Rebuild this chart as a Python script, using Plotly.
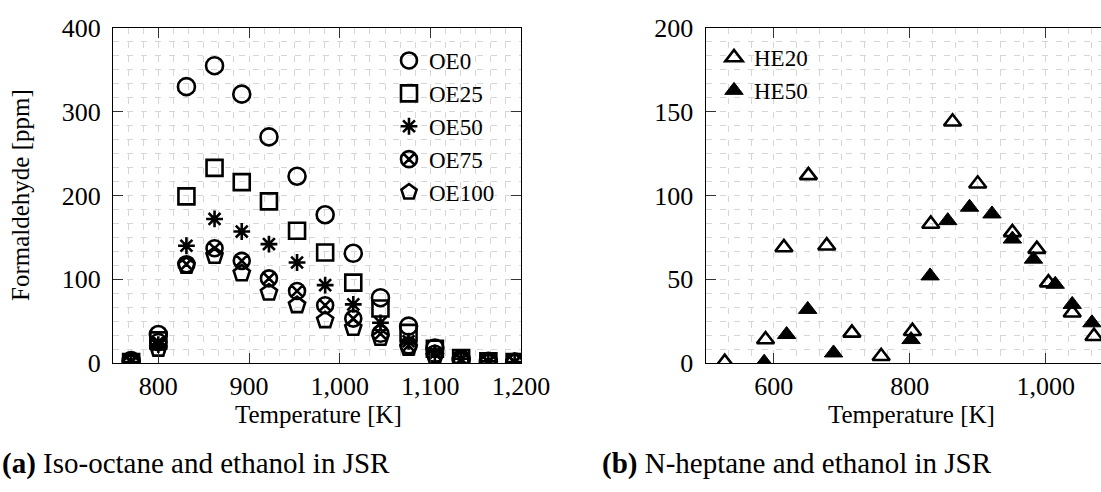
import plotly.graph_objects as go

# ---------------- data ----------------
T_OE = [770, 800, 831, 862, 892, 922, 953, 984, 1015, 1045, 1076, 1105, 1134, 1164, 1193]
OE0 = [3, 34, 330, 355, 321, 270, 223, 177, 131, 78, 44, 18, 5, 2, 1]
OE25 = [1, 27, 199, 233, 216, 193, 158, 132, 96, 65, 36, 17, 6, 2, 1]
OE50 = [1, 22, 140, 172, 157, 142, 120, 93, 70, 48, 26, 12, 5, 2, 1]
OE75 = [2, 25, 118, 137, 122, 101, 86, 69, 53, 35, 21, 11, 4, 1, 1]
OE100 = [0, 17, 116, 128, 107, 84, 69, 51, 42, 30, 18, 8, 3, 1, 1]

T_HE20 = [528, 588, 615, 651, 678, 715, 758, 804, 831, 863, 900, 951, 987, 1004, 1039, 1071]
HE20 = [0.5, 14, 69, 112, 70, 18, 4, 19, 83, 144, 107, 78, 68, 48, 30, 16]
T_HE50 = [586, 619, 650, 688, 802, 830, 856, 888, 921, 951, 982, 1014, 1039, 1068]
HE50 = [0.5, 17, 32, 6, 14, 52, 85, 93, 89, 74, 62, 47, 35, 24]

X_TITLE = "Temperature [K]"
Y_TITLE = "Formaldehyde [ppm]"
CAPTION_A = "<b>(a)</b> Iso-octane and ethanol in JSR"
CAPTION_B = "<b>(b)</b> N-heptane and ethanol in JSR"

# ---------------- layout geometry ----------------
W, H = 1101, 492
FONT = "'Liberation Serif', 'Times New Roman', Times, serif"
GRID = "#d6d6d6"
DASH = "6px,8px"


def px_x(p):
    return p / W


def px_y(p):
    return (H - p) / H


fig = go.Figure()

lw = 2.6
series_a = [
    ("OE0", OE0, "circle-open", 17),
    ("OE25", OE25, "square-open", 16),
    ("OE50", OE50, "asterisk-open", 14),
    ("OE75", OE75, "circle-x-open", 16),
    ("OE100", OE100, "pentagon-open", 17),
]
for name, vals, sym, sz in series_a:
    fig.add_trace(go.Scatter(
        x=T_OE, y=vals, mode="markers", name=name,
        marker=dict(symbol=sym, size=sz, color="black", line=dict(width=lw, color="black")),
        xaxis="x", yaxis="y", legend="legend",
    ))

fig.add_trace(go.Scatter(
    x=T_HE20, y=HE20, mode="markers", name="HE20",
    marker=dict(symbol="triangle-up-open", size=15, color="black", line=dict(width=lw, color="black")),
    xaxis="x2", yaxis="y2", legend="legend2",
))
fig.add_trace(go.Scatter(
    x=T_HE50, y=HE50, mode="markers", name="HE50",
    marker=dict(symbol="triangle-up", size=16, color="black", line=dict(width=1, color="black")),
    xaxis="x2", yaxis="y2", legend="legend2",
))

tickfont = dict(family=FONT, size=26, color="black")

common_axis = dict(
    showline=True, linecolor="black", linewidth=1.3,
    ticks="inside", ticklen=10, tickwidth=1, tickcolor="#333",
    showgrid=True, gridcolor=GRID, griddash=DASH, gridwidth=1,
    zeroline=False, tickfont=tickfont, automargin=False,
)

ydom = [px_y(363), px_y(28)]

fig.update_layout(
    width=W, height=H,
    margin=dict(l=0, r=0, t=0, b=0, autoexpand=False),
    paper_bgcolor="white", plot_bgcolor="white",
    font=dict(family=FONT, color="black"),
    xaxis=dict(
        common_axis, domain=[px_x(113), px_x(521)], range=[750, 1200],
        dtick=100, tick0=0, tickformat=",", mirror="ticks", anchor="y",
        ticklabelstandoff=0,
        minor=dict(dtick=100 / 6, tick0=800, showgrid=True, gridcolor=GRID, griddash=DASH, ticks=""),
    ),
    yaxis=dict(
        common_axis, domain=ydom, range=[0, 400], dtick=100, mirror="ticks", anchor="x",
        ticklabelstandoff=6,
        minor=dict(dtick=100 / 6, tick0=0, showgrid=True, gridcolor=GRID, griddash=DASH, ticks=""),
    ),
    xaxis2=dict(
        common_axis, domain=[px_x(705.7), 1.0], range=[500, 500 + (W - 705.7) / 0.68],
        dtick=200, tick0=0, tickformat=",", mirror="ticks", anchor="y2",
        ticklabelstandoff=0,
        minor=dict(dtick=200 / 6, tick0=600, showgrid=True, gridcolor=GRID, griddash=DASH, ticks=""),
    ),
    yaxis2=dict(
        common_axis, domain=ydom, range=[0, 200], dtick=50, mirror=False, anchor="x2",
        ticklabelstandoff=6,
        minor=dict(dtick=50 / 6, tick0=0, showgrid=True, gridcolor=GRID, griddash=DASH, ticks=""),
    ),
    legend=dict(
        x=px_x(389), y=px_y(39), xanchor="left", yanchor="top",
        bgcolor="rgba(0,0,0,0)", borderwidth=0, tracegroupgap=0,
        font=dict(family=FONT, size=23, color="black"),
    ),
    legend2=dict(
        x=px_x(714), y=px_y(36), xanchor="left", yanchor="top",
        bgcolor="rgba(0,0,0,0)", borderwidth=0,
        font=dict(family=FONT, size=23, color="black"),
    ),
    showlegend=True,
)

ann_font = dict(family=FONT, size=25, color="black")
fig.add_annotation(text=X_TITLE, x=px_x(318), y=px_y(414), xref="paper", yref="paper",
                   showarrow=False, font=ann_font, xanchor="center", yanchor="middle")
fig.add_annotation(text=X_TITLE, x=px_x(911), y=px_y(414), xref="paper", yref="paper",
                   showarrow=False, font=ann_font, xanchor="center", yanchor="middle")
fig.add_annotation(text=Y_TITLE, x=px_x(20), y=px_y(195), xref="paper", yref="paper",
                   showarrow=False, font=ann_font, textangle=-90, xanchor="center", yanchor="middle")
cap_font = dict(family=FONT, size=29, color="black")
fig.add_annotation(text=CAPTION_A, x=px_x(0), y=px_y(463), xref="paper", yref="paper",
                   showarrow=False, font=cap_font, xanchor="left", yanchor="middle")
fig.add_annotation(text=CAPTION_B, x=px_x(600), y=px_y(463), xref="paper", yref="paper",
                   showarrow=False, font=cap_font, xanchor="left", yanchor="middle")

fig.write_html(
    "out.html",
    config={"displayModeBar": False},
    post_script="document.body.style.margin='0';document.body.style.overflow='hidden';",
)
